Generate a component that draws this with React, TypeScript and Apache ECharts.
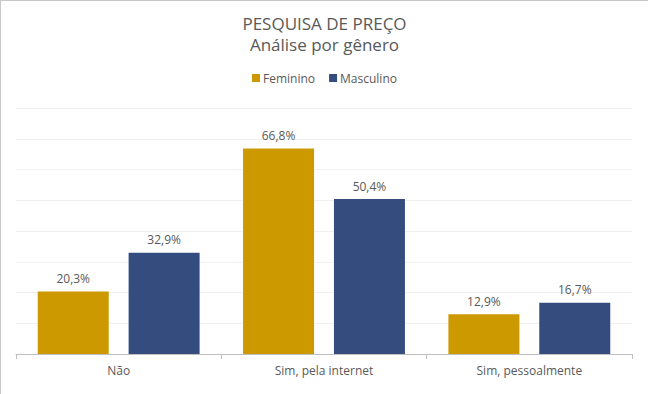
import React, { useEffect, useRef } from "react";
import * as echarts from "echarts";

const categories = ["Não", "Sim, pela internet", "Sim, pessoalmente"];
const feminino = [20.3, 66.8, 12.9];
const masculino = [32.9, 50.4, 16.7];
const seriesNames = ["Feminino", "Masculino"];
const titleText = "PESQUISA DE PREÇO";
const subtitleText = "Análise por gênero";

const FONT = "'Open Sans', 'Noto Sans', sans-serif";

export default function App() {
  const ref = useRef<HTMLDivElement>(null);
  useEffect(() => {
    if (!ref.current) return;
    const chart = echarts.init(ref.current, undefined, { renderer: "svg" });
    const fmt = (p: any) => p.value.toFixed(1).replace(".", ",") + "%";
    chart.setOption({
      animation: false,
      backgroundColor: "#ffffff",
      textStyle: { fontFamily: FONT },
      title: {
        text: titleText,
        subtext: subtitleText,
        left: "center",
        top: 9,
        itemGap: 4,
        textStyle: { fontFamily: FONT, fontSize: 17, fontWeight: "normal", color: "#595959" },
        subtextStyle: { fontFamily: FONT, fontSize: 17, color: "#595959" },
      },
      legend: {
        data: seriesNames,
        top: 66,
        left: "center",
        itemWidth: 8,
        itemHeight: 8,
        itemGap: 14,
        icon: "rect",
        textStyle: { fontFamily: FONT, fontSize: 12, color: "#595959", padding: [0, 0, 0, -2] },
      },
      grid: { left: 15, right: 16, top: 107, bottom: 40, containLabel: false },
      xAxis: {
        type: "category",
        data: categories,
        axisLine: { lineStyle: { color: "#bfbfbf" } },
        axisTick: { show: true, length: 5, lineStyle: { color: "#bfbfbf" } },
        axisLabel: { fontFamily: FONT, fontSize: 12, color: "#595959", margin: 10 },
      },
      yAxis: {
        type: "value",
        min: 0,
        max: 80,
        interval: 10,
        axisLabel: { show: false },
        axisLine: { show: false },
        axisTick: { show: false },
        splitLine: { lineStyle: { color: "#f0f0f0" } },
      },
      series: [
        {
          name: seriesNames[0],
          type: "bar",
          data: feminino,
          barWidth: 71,
          barGap: "28%",
          itemStyle: { color: "#CC9900" },
          label: { show: true, position: "top", distance: 7, formatter: fmt, fontFamily: FONT, fontSize: 12, color: "#595959" },
        },
        {
          name: seriesNames[1],
          type: "bar",
          data: masculino,
          barWidth: 71,
          barGap: "28%",
          itemStyle: { color: "#354C7F" },
          label: { show: true, position: "top", distance: 7, formatter: fmt, fontFamily: FONT, fontSize: 12, color: "#595959" },
        },
      ],
    });
    return () => chart.dispose();
  }, []);
  return (
    <div
      style={{
        position: "fixed",
        left: 0,
        top: 0,
        width: 648,
        height: 394,
        boxSizing: "border-box",
        borderTop: "1px solid #c8c8c8",
        borderLeft: "1px solid #c8c8c8",
        background: "#fff",
      }}
    >
      <div ref={ref} style={{ width: 647, height: 393 }} />
    </div>
  );
}
